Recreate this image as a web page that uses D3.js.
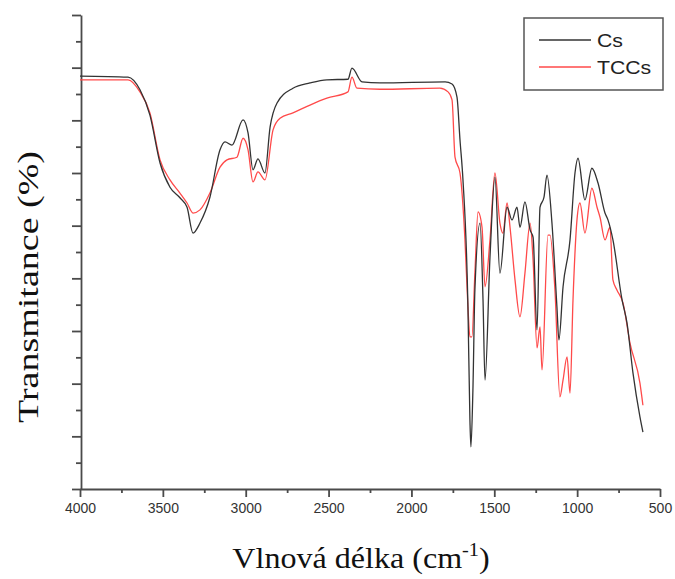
<!DOCTYPE html>
<html>
<head>
<meta charset="utf-8">
<script src="https://cdn.jsdelivr.net/npm/d3@7"></script>
<style>
  body { margin: 0; background: #fff; }
  .axis path, .axis line { stroke: #4a4a4a; stroke-width: 1.8; }
  .axis text { font-family: "Liberation Sans", Arial, sans-serif; font-size: 14px; fill: #333; }
</style>
</head>
<body>
<svg width="675" height="579"></svg>
<script>
// wavenumbers (cm-1) and transmittance
const csWave = [4000, 3710, 3638, 3578, 3517, 3457, 3397, 3354, 3318, 3276, 3216, 3155, 3125, 3083,
    3016, 2986, 2956, 2926, 2884, 2853, 2811, 2715, 2612, 2510, 2383, 2359, 2298, 2190, 1797, 1755,
    1725, 1707, 1689, 1659, 1647, 1641, 1629, 1617, 1586, 1568, 1556, 1526, 1496, 1466, 1423, 1393,
    1363, 1345, 1315, 1284, 1266, 1242, 1224, 1200, 1182, 1152, 1122, 1110, 1085, 1043, 1013, 995,
    953, 911, 874, 832, 814, 784, 729, 699, 663, 621, 603];
const csT = [78.4, 78.2, 75.8, 71.0, 61.9, 57.3, 55.3, 53.5, 48.6, 50.5, 55.4, 64.4, 65.9, 65.3,
    70.1, 67.6, 60.6, 62.7, 60.0, 68.7, 73.3, 76.1, 77.1, 77.7, 77.8, 79.9, 77.3, 77.1, 77.3, 76.9,
    74.4, 66.3, 58.7, 34.6, 13.1, 8.0, 18.8, 37.8, 50.5, 35.9, 20.7, 44.0, 59.2, 41.0, 53.5, 51.1,
    53.5, 49.7, 54.5, 49.2, 47.8, 30.2, 53.5, 55.4, 59.6, 50.5, 34.6, 28.3, 38.4, 47.3, 60.0, 62.8,
    54.9, 60.9, 58.1, 52.4, 51.1, 47.3, 35.9, 31.5, 22.0, 13.7, 10.8];

const tccsWave = [4000, 3710, 3638, 3578, 3517, 3457, 3397, 3354, 3318, 3276, 3216, 3155, 3113, 3053,
    3016, 2986, 2956, 2926, 2884, 2835, 2793, 2715, 2612, 2510, 2383, 2359, 2329, 2190, 1828, 1779,
    1755, 1737, 1707, 1677, 1659, 1647, 1635, 1617, 1598, 1574, 1556, 1526, 1496, 1466, 1448, 1423,
    1405, 1375, 1345, 1315, 1284, 1266, 1242, 1224, 1212, 1176, 1164, 1134, 1104, 1085, 1061, 1043,
    1025, 1001, 983, 953, 911, 880, 862, 832, 802, 784, 760, 723, 681, 621, 603];
const tccsT = [77.7, 77.7, 75.4, 71.4, 62.5, 58.7, 56.2, 54.3, 52.4, 53.0, 56.2, 61.1, 62.5, 63.0,
    66.6, 64.4, 58.3, 60.2, 58.7, 68.2, 70.4, 71.4, 72.9, 74.2, 75.4, 78.2, 76.1, 75.9, 76.1, 75.4,
    73.9, 63.0, 60.0, 47.3, 34.6, 28.9, 28.9, 41.0, 52.6, 49.7, 38.4, 47.3, 60.0, 50.5, 48.6, 54.3,
    49.7, 39.7, 32.7, 41.0, 50.5, 43.5, 26.8, 30.8, 22.6, 48.2, 48.2, 37.8, 17.5, 20.7, 25.1, 18.2,
    35.9, 51.1, 54.3, 48.6, 57.1, 53.5, 51.6, 47.3, 49.7, 39.7, 37.8, 35.3, 27.7, 20.1, 15.9];

const seriesNames = ["Cs", "TCCs"];
const seriesColors = ["#333333", "#ff4a4a"];
const xTicks = [4000, 3500, 3000, 2500, 2000, 1500, 1000, 500];

const svg = d3.select("svg");

const x = d3.scaleLinear().domain([4000, 500]).range([80, 660]);
const y = d3.scaleLinear().domain([0, 90]).range([489, 15]);

// minor ticks first, then the major ones with labels
svg.append("g")
    .attr("class", "axis")
    .attr("transform", "translate(0,489)")
    .call(d3.axisBottom(x).tickValues(d3.range(750, 4000, 500)).tickSize(4).tickFormat(""))
    .select(".domain").remove();
svg.append("g")
    .attr("class", "axis")
    .attr("transform", "translate(0,489)")
    .call(d3.axisBottom(x).tickValues(xTicks).tickSize(8).tickSizeOuter(0).tickFormat(d3.format("d")))
    .selectAll("text")
        .attr("dy", "0.9em")
        .attr("textLength", d => String(d).length * 7.8)
        .attr("lengthAdjust", "spacingAndGlyphs");

svg.append("g")
    .attr("class", "axis")
    .attr("transform", "translate(81,0)")
    .call(d3.axisLeft(y).tickValues(d3.range(5, 90, 10)).tickSize(5).tickFormat(""))
    .select(".domain").remove();
svg.append("g")
    .attr("class", "axis")
    .attr("transform", "translate(81,0)")
    .call(d3.axisLeft(y).tickValues(d3.range(0, 91, 10)).tickSize(9).tickSizeOuter(0).tickFormat(""));

const line = d3.line()
    .x(d => x(d[0]))
    .y(d => y(d[1]))
    .curve(d3.curveMonotoneX);

const series = [
    d3.zip(csWave, csT),
    d3.zip(tccsWave, tccsT)
];

// red drawn first so black shows on top
[1, 0].forEach(i => {
    svg.append("path")
        .datum(series[i])
        .attr("fill", "none")
        .attr("stroke", seriesColors[i])
        .attr("stroke-width", 1.3)
        .attr("stroke-linejoin", "round")
        .attr("d", line);
});

// legend
const legend = svg.append("g");
legend.append("rect")
    .attr("x", 524).attr("y", 18)
    .attr("width", 139).attr("height", 72)
    .attr("fill", "#fff")
    .attr("stroke", "#555")
    .attr("stroke-width", 1.5);
seriesNames.forEach((name, i) => {
    const ly = 40 + i * 27;
    legend.append("line")
        .attr("x1", 539).attr("x2", 591)
        .attr("y1", ly).attr("y2", ly)
        .attr("stroke", seriesColors[i])
        .attr("stroke-width", 1.3);
    legend.append("text")
        .attr("transform", `translate(597,${ly + 7}) scale(1.18,1)`)
        .style("font-family", "Liberation Sans, Arial, sans-serif")
        .style("font-size", "18px")
        .style("fill", "#222")
        .text(name);
});

// axis titles
svg.append("text")
    .attr("transform", "translate(38,287) rotate(-90)")
    .attr("text-anchor", "middle")
    .attr("textLength", 272)
    .attr("lengthAdjust", "spacingAndGlyphs")
    .style("font-family", "Liberation Serif, Times New Roman, serif")
    .style("font-size", "29px")
    .style("fill", "#111")
    .text("Transmitance (%)");

const xt = svg.append("text")
    .attr("transform", "translate(361,568) scale(1.07,1)")
    .attr("text-anchor", "middle")
    .style("font-family", "Liberation Serif, Times New Roman, serif")
    .style("font-size", "30px")
    .style("fill", "#111");
xt.append("tspan").text("Vlnová délka (cm");
xt.append("tspan").attr("dy", -12).style("font-size", "19px").text("-1");
xt.append("tspan").attr("dy", 12).text(")");
</script>
</body>
</html>
